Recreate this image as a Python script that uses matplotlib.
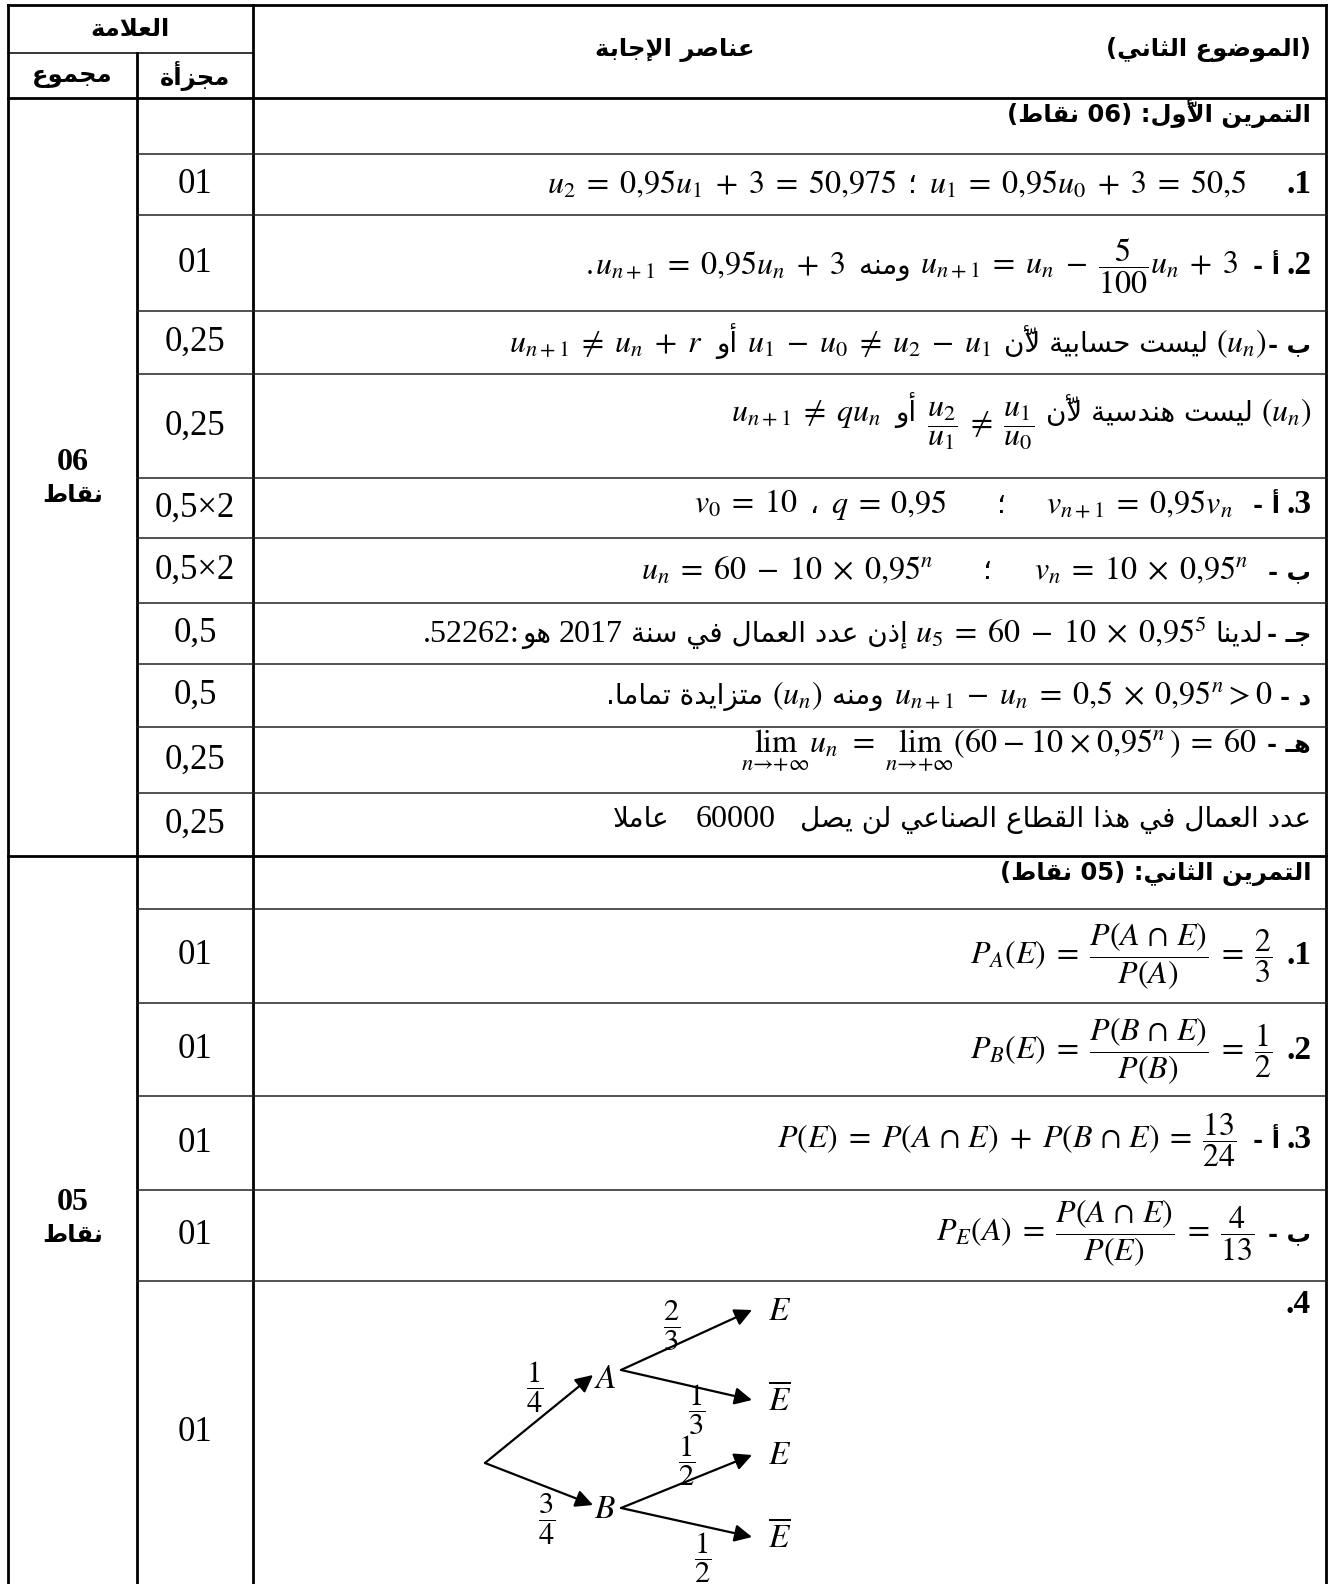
import matplotlib
matplotlib.use("Agg")
import matplotlib.pyplot as plt

plt.rcParams['mathtext.fontset'] = 'stix'

W, H = 1333, 1584

# ==========================================
# data
# ==========================================
header_marks = "العلامة"
header_total = "مجموع"
header_part = "مجزأة"
header_answer = "عناصر الإجابة"
header_subject = "(الموضوع الثاني)"

section_totals = ["06", "05"]
section_unit = "نقاط"

# one entry per table row (empty string = title row)
partial_marks = ["", "01", "01", "0,25", "0,25", "0,5×2", "0,5×2", "0,5", "0,5",
                 "0,25", "0,25",
                 "", "01", "01", "01", "01", "01"]

# tree of exercise 2, question 4
tree_first = ["A", "B"]
tree_first_p = [r"$\dfrac{1}{4}$", r"$\dfrac{3}{4}$"]
tree_second = [r"$E$", r"$\overline{E}$"]
tree_second_p = [[r"$\dfrac{2}{3}$", r"$\dfrac{1}{3}$"],
                 [r"$\dfrac{1}{2}$", r"$\dfrac{1}{2}$"]]

# answer lines: segments in reading order (right to left)
# (kind, text, gap_before, dy)
answer_lines = [
    [("arb", "التمرين الأوّل: (06 نقاط)", 0)],
    [("b", ".1", 0), ("m", r"$u_1 = 0{,}95u_0 + 3 = 50{,}5$", 40), ("ar", "؛", 12),
     ("m", r"$u_2 = 0{,}95u_1 + 3 = 50{,}975$", 12)],
    [("b", ".2", 0), ("arb", "أ -", 6), ("m", r"$u_{n+1} = u_n - \dfrac{5}{100}u_n + 3$", 14),
     ("ar", "ومنه", 10), ("m", r"$u_{n+1} = 0{,}95u_n + 3$", 14), ("m", r"$.$", 2)],
    [("arb", "ب -", 0), ("m", r"$(u_n)$", 2), ("ar", "ليست حسابية لأنّ", 8),
     ("m", r"$u_1 - u_0 \neq u_2 - u_1$", 12), ("ar", "أو", 10),
     ("m", r"$u_{n+1} \neq u_n + r$", 14)],
    [("m", r"$(u_n)$", 0), ("ar", "ليست هندسية لأنّ", 8),
     ("m", r"$\dfrac{u_2}{u_1} \neq \dfrac{u_1}{u_0}$", 12, 12), ("ar", "أو", 10),
     ("m", r"$u_{n+1} \neq qu_n$", 14)],
    [("b", ".3", 0), ("arb", "أ -", 6), ("m", r"$v_{n+1} = 0{,}95v_n$", 20), ("ar", "؛", 40),
     ("m", r"$q = 0{,}95$", 50), ("ar", "،", 12), ("m", r"$v_0 = 10$", 12)],
    [("arb", "ب -", 0), ("m", r"$v_n = 10 \times 0{,}95^n$", 20), ("ar", "؛", 42),
     ("m", r"$u_n = 60 - 10 \times 0{,}95^n$", 50)],
    [("arb", "جـ -", 0), ("ar", "لدينا", 4), ("m", r"$u_5 = 60 - 10 \times 0{,}95^5$", 8),
     ("ar", "إذن عدد العمال في سنة", 8), ("t", "2017", 8), ("ar", "هو", 8), ("t", ".52262:", 2)],
    [("arb", "د -", 0), ("m", r"$u_{n+1} - u_n = 0{,}5 \times 0{,}95^n>0$", 8), ("ar", "ومنه", 10),
     ("m", r"$(u_n)$", 10), ("ar", "متزايدة تماما.", 8)],
    [("arb", "هـ -", 0),
     ("m", r"$\lim_{n\to+\infty}u_n = \lim_{n\to+\infty}\left(60 - 10 \times 0{,}95^n\right) = 60$", 10)],
    [("ar", "عدد العمال في هذا القطاع الصناعي لن يصل", 0), ("t", "60000", 24), ("ar", "عاملا", 26)],
    [("arb", "التمرين الثاني: (05 نقاط)", 0)],
    [("b", ".1", 0), ("m", r"$P_A(E) = \dfrac{P(A \cap E)}{P(A)} = \dfrac{2}{3}$", 14)],
    [("b", ".2", 0), ("m", r"$P_B(E) = \dfrac{P(B \cap E)}{P(B)} = \dfrac{1}{2}$", 14)],
    [("b", ".3", 0), ("arb", "أ -", 6),
     ("m", r"$P(E) = P(A \cap E) + P(B \cap E) = \dfrac{13}{24}$", 16)],
    [("arb", "ب -", 0), ("m", r"$P_E(A) = \dfrac{P(A \cap E)}{P(E)} = \dfrac{4}{13}$", 14)],
    [("b", ".4", 0)],
]

# ==========================================
# layout
# ==========================================
X_LEFT, X_C1, X_C2, X_RIGHT = 8, 137, 253, 1326
Y_TOP, Y_HMID, Y_HBOT = 5, 53, 98
row_edges = [98, 154, 215, 311, 374, 478, 538, 603, 664, 727, 793, 856,
             909, 1003, 1096, 1190, 1281, 1584]
section_break = 11
baselines = [122, 193, 274, 352, 421, 513, 579, 642, 704, 752, 827,
             880, 964, 1059, 1148, 1241, 1313]
TEXT_RIGHT = 1311

AR_FS = 20
ARB_FS = 17.5
M_FS = 23

# ==========================================
# arabic shaping (presentation forms + visual order)
# ==========================================
_table = [('ء', 0xFE80, 1), ('آ', 0xFE81, 2), ('أ', 0xFE83, 2), ('ؤ', 0xFE85, 2),
          ('إ', 0xFE87, 2), ('ئ', 0xFE89, 4), ('ا', 0xFE8D, 2), ('ب', 0xFE8F, 4),
          ('ة', 0xFE93, 2), ('ت', 0xFE95, 4), ('ث', 0xFE99, 4), ('ج', 0xFE9D, 4),
          ('ح', 0xFEA1, 4), ('خ', 0xFEA5, 4), ('د', 0xFEA9, 2), ('ذ', 0xFEAB, 2),
          ('ر', 0xFEAD, 2), ('ز', 0xFEAF, 2), ('س', 0xFEB1, 4), ('ش', 0xFEB5, 4),
          ('ص', 0xFEB9, 4), ('ض', 0xFEBD, 4), ('ط', 0xFEC1, 4), ('ظ', 0xFEC5, 4),
          ('ع', 0xFEC9, 4), ('غ', 0xFECD, 4), ('ف', 0xFED1, 4), ('ق', 0xFED5, 4),
          ('ك', 0xFED9, 4), ('ل', 0xFEDD, 4), ('م', 0xFEE1, 4), ('ن', 0xFEE5, 4),
          ('ه', 0xFEE9, 4), ('و', 0xFEED, 2), ('ى', 0xFEEF, 2), ('ي', 0xFEF1, 4)]
FORMS = {c: (b, k) for c, b, k in _table}
LAMALEF = {'آ': 0xFEF5, 'أ': 0xFEF7, 'إ': 0xFEF9, 'ا': 0xFEFB}
MARKS = set(chr(c) for c in range(0x064B, 0x0653)) | {'\u0670'}
TATWEEL = 'ـ'
MIRROR = {'(': ')', ')': '('}


def _dual(c):
    return c == TATWEEL or (c in FORMS and FORMS[c][1] == 4)


def _joins(c):
    return c == TATWEEL or (c in FORMS and c != 'ء')


def shape_ar(s):
    ch = list(s)
    n = len(ch)
    out, skip = [], set()
    for i, c in enumerate(ch):
        if i in skip:
            continue
        if c not in FORMS:
            out.append(c)
            continue
        j = i - 1
        while j >= 0 and ch[j] in MARKS:
            j -= 1
        jp = j >= 0 and _dual(ch[j])
        k = i + 1
        while k < n and ch[k] in MARKS:
            k += 1
        nx = ch[k] if k < n else None
        if c == 'ل' and nx in LAMALEF:
            out.append(chr(LAMALEF[nx] + (1 if jp else 0)))
            skip.add(k)
            continue
        jn = _dual(c) and nx is not None and _joins(nx)
        base, kind = FORMS[c]
        if kind == 1:
            f = base
        elif kind == 2:
            f = base + 1 if jp else base
        else:
            f = base + (3 if (jp and jn) else 1 if jp else 2 if jn else 0)
        out.append(chr(f))
    # visual order
    clusters = []
    for c in out:
        if c in MARKS and clusters:
            clusters[-1] += c
        else:
            clusters.append(c)
    runs = []
    for cl in clusters:
        ltr = cl[0].isascii() and cl[0].isalnum()
        if runs and runs[-1][0] == ltr:
            runs[-1][1].append(cl)
        else:
            runs.append([ltr, [cl]])
    vis = ''
    for ltr, cls in reversed(runs):
        if ltr:
            vis += ''.join(cls)
        else:
            vis += ''.join(MIRROR.get(c, c) for c in reversed(cls))
    return vis


def wide_math(s):
    # Word-like spacing around operators written with blanks
    for op in ['=', '+', '-', r'\neq', r'\times']:
        s = s.replace(' ' + op + ' ', r'\;' + op + r'\;')
    return s.replace(r' \cap ', r'\,\cap\,')


STYLE = {
    'ar': dict(family='DejaVu Sans', fontsize=AR_FS),
    'arb': dict(family='DejaVu Sans', fontsize=ARB_FS, fontweight='bold'),
    'm': dict(fontsize=M_FS),
    'b': dict(family='Liberation Serif', fontsize=M_FS + 1, fontweight='bold'),
    't': dict(family='Liberation Serif', fontsize=M_FS),
}

fig = plt.figure(figsize=(W / 100, H / 100), dpi=100)
ax = fig.add_axes([0, 0, 1, 1])
ax.set_xlim(0, W)
ax.set_ylim(H, 0)
ax.axis('off')
renderer = fig.canvas.get_renderer()


def txt(x, y, s, kind, ha='center', va='center'):
    if kind in ('ar', 'arb'):
        s = shape_ar(s)
    elif kind == 'm':
        s = wide_math(s)
    return ax.text(x, y, s, ha=ha, va=va, color='black', **STYLE[kind])


def draw_line(y, segs, right=TEXT_RIGHT):
    x = right
    for seg in segs:
        kind, s, gap = seg[0], seg[1], seg[2]
        dy = seg[3] if len(seg) > 3 else 0
        x -= gap
        t = txt(x, y + dy, s, kind, ha='right', va='baseline')
        x -= t.get_window_extent(renderer).width


# ==========================================
# table grid
# ==========================================
THICK, THIN = 2.0, 1.1
ax.plot([X_LEFT, X_RIGHT], [Y_TOP, Y_TOP], color='k', lw=THICK)
ax.plot([X_LEFT, X_C2], [Y_HMID, Y_HMID], color='k', lw=THIN)
for x, y0 in [(X_LEFT, Y_TOP), (X_C1, Y_HMID), (X_C2, Y_TOP), (X_RIGHT, Y_TOP)]:
    ax.plot([x, x], [y0, H], color='k', lw=THICK)
ax.plot([X_LEFT, X_RIGHT], [Y_HBOT, Y_HBOT], color='k', lw=THICK)
for i, y in enumerate(row_edges[1:-1], start=1):
    if i == section_break:
        ax.plot([X_LEFT, X_RIGHT], [y, y], color='k', lw=THICK)
    else:
        ax.plot([X_C1, X_RIGHT], [y, y], color='#222222', lw=THIN)

# ==========================================
# header
# ==========================================
txt((X_LEFT + X_C2) / 2, 29, header_marks, 'arb')
txt((X_LEFT + X_C1) / 2, 76, header_total, 'arb')
txt((X_C1 + X_C2) / 2, 76, header_part, 'arb')
txt(675, 50, header_answer, 'arb')
txt(TEXT_RIGHT, 50, header_subject, 'arb', ha='right')

# ==========================================
# marks columns
# ==========================================
for i, m in enumerate(partial_marks):
    if m:
        yc = (row_edges[i] + row_edges[i + 1]) / 2
        ax.text((X_C1 + X_C2) / 2, yc, m, ha='center', va='center',
                family='Liberation Serif', fontsize=25)

section_mid = [475, 1215]
for tot, ym in zip(section_totals, section_mid):
    ax.text((X_LEFT + X_C1) / 2, ym - 12, tot, ha='center', va='center',
            family='Liberation Serif', fontsize=M_FS, fontweight='bold')
    txt((X_LEFT + X_C1) / 2, ym + 20, section_unit, 'arb')

# ==========================================
# answers
# ==========================================
for y, segs in zip(baselines, answer_lines):
    draw_line(y, segs)

# ==========================================
# probability tree
# ==========================================
root = (485, 1463)
mid_x, leaf_x = 605, 780
mid_y = [1378, 1508]
leaf_y = [[1310, 1400], [1455, 1537]]
arrow = dict(arrowstyle='-|>', color='k', lw=1.6, mutation_scale=26,
             shrinkA=0, shrinkB=0)
first_lbl = [(535, 1387), (547, 1520)]
second_lbl = [[(672, 1326), (697, 1410)], [(687, 1461), (703, 1558)]]
for i, node in enumerate(tree_first):
    ax.annotate('', xy=(mid_x - 12, mid_y[i] - 3), xytext=root, arrowprops=arrow)
    ax.text(mid_x, mid_y[i], '$' + node + '$', ha='center', va='center', fontsize=M_FS + 1)
    ax.text(first_lbl[i][0], first_lbl[i][1], tree_first_p[i], ha='center', va='center',
            fontsize=M_FS - 1)
    start = (mid_x + 16, mid_y[i] - 8 if i == 0 else mid_y[i])
    for j, leaf in enumerate(tree_second):
        ax.annotate('', xy=(leaf_x - 28, leaf_y[i][j]), xytext=start, arrowprops=arrow)
        ax.text(leaf_x, leaf_y[i][j], leaf, ha='center', va='center', fontsize=M_FS + 1)
        ax.text(second_lbl[i][j][0], second_lbl[i][j][1], tree_second_p[i][j],
                ha='center', va='center', fontsize=M_FS - 1)

fig.savefig('out.png', dpi=100)
